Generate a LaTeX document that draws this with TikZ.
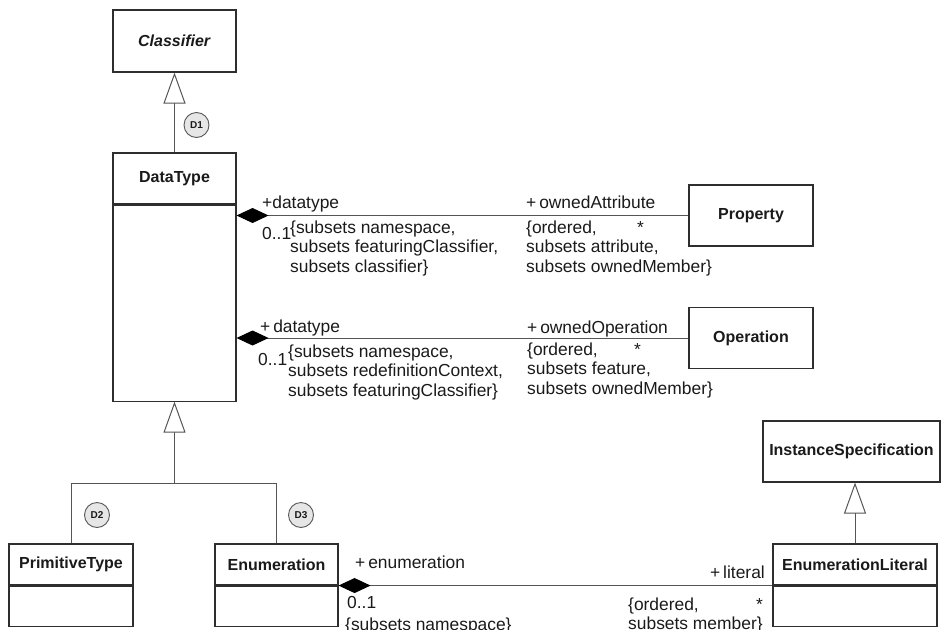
\documentclass[tikz,border=0pt]{standalone}
\usepackage{fontspec}
\setmainfont{Liberation Sans}
\usetikzlibrary{arrows.meta,positioning}
\definecolor{ln}{HTML}{2E2E2E}
\definecolor{cn}{HTML}{555555}
\definecolor{tx}{HTML}{1A1A1A}
\definecolor{dfill}{HTML}{E6E6E6}
\tikzset{
  cls/.style={draw=ln,line width=1.1pt,fill=white,inner sep=0pt,text=tx,font=\bfseries\fontsize{16}{19.5}\selectfont},
  clsbody/.style={draw=ln,line width=1.1pt,fill=white,inner sep=0pt},
  lbl/.style={inner sep=0pt,align=left,text=tx,font=\fontsize{17.4}{19.5}\selectfont},
  dmark/.style={circle,draw=ln!80,fill=dfill,line width=0.9pt,minimum size=25pt,inner sep=0pt,text=tx,font=\bfseries\fontsize{10}{11}\selectfont},
  gen/.style={-{Triangle[open,length=31pt,width=22pt,fill=white]},draw=cn,line width=1pt},
  comp/.style={{Diamond[length=32pt,width=15pt,color=black]}-,draw=cn,line width=1pt},
  cline/.style={draw=cn,line width=1pt},
}
\begin{document}
\begin{tikzpicture}[x=1pt,y=-1pt]
  \useasboundingbox (0,0) rectangle (941,629);
  \clip (0,0) rectangle (941,629);
  \node[cls,minimum width=123pt,minimum height=62pt] (cls) at (174.5,41) {\textit{Classifier}};
  \node[cls,minimum width=123pt,minimum height=51pt] (dth) at (174.5,178.5) {DataType};
  \node[clsbody,minimum width=123pt,minimum height=196pt,below=0pt of dth] (dtb) {};
  \node[cls,minimum width=124pt,minimum height=61pt] (prop) at (751,215.5) {Property};
  \node[cls,minimum width=124pt,minimum height=61pt] (oper) at (751,338) {Operation};
  \node[cls,minimum width=124pt,minimum height=41pt] (prh) at (71,564.5) {PrimitiveType};
  \node[clsbody,minimum width=124pt,minimum height=40pt,below=0pt of prh] (prb) {};
  \node[cls,minimum width=123pt,minimum height=41pt] (enh) at (276.5,564.5) {Enumeration};
  \node[clsbody,minimum width=123pt,minimum height=40pt,below=0pt of enh] (enb) {};
  \node[cls,minimum width=177pt,minimum height=61pt] (inst) at (851.5,451.5) {InstanceSpecification};
  \node[cls,minimum width=164pt,minimum height=41pt] (elh) at (855,564.5) {EnumerationLiteral};
  \node[clsbody,minimum width=164pt,minimum height=40pt,below=0pt of elh] (elb) {};

  \draw[gen] (dth.north) -- (cls.south);
  \coordinate[below=82pt of dtb.south] (gsplit);
  \draw[cline] (prh.north) |- (gsplit) -| (enh.north);
  \draw[gen] (gsplit) -- (dtb.south);
  \draw[gen] (elh.north) -- (elh.north |- inst.south);
  \node[dmark] (dOne) at (196.5,125) {D1};
  \node[dmark] (dTwo) at (97,515) {D2};
  \node[dmark] (dThree) at (301,515) {D3};

  \draw[comp] (dtb.east |- prop.west) -- (prop.west);
  \node[lbl,anchor=base west] (dtRoleA) at (262,208) {+datatype};
  \node[lbl,anchor=base west] (dtMultA) at (262,239) {0..1};
  \node[lbl,anchor=base west] (dtConsA) at (290,272) {\{subsets namespace,\\subsets featuringClassifier,\\subsets classifier\}};
  \node[lbl,anchor=base west] (propRole) at (526,208) {+\,ownedAttribute};
  \node[lbl,anchor=base west] (propCons) at (526,272) {\{ordered,\\subsets attribute,\\subsets ownedMember\}};
  \node[lbl,anchor=base west] (propMult) at (637,233) {*};

  \draw[comp] (dtb.east |- oper.west) -- (oper.west);
  \node[lbl,anchor=base west] (dtRoleB) at (260,332) {+\,datatype};
  \node[lbl,anchor=base west] (dtMultB) at (258,365) {0..1};
  \node[lbl,anchor=base west] (dtConsB) at (288,396) {\{subsets namespace,\\subsets redefinitionContext,\\subsets featuringClassifier\}};
  \node[lbl,anchor=base west] (operRole) at (527,333) {+\,ownedOperation};
  \node[lbl,anchor=base west] (operCons) at (527,394) {\{ordered,\\subsets feature,\\subsets ownedMember\}};
  \node[lbl,anchor=base west] (operMult) at (634,355) {*};

  \draw[comp] (enh.south east) -- (elh.south west);
  \node[lbl,anchor=base west] (enRole) at (355,568) {+\,enumeration};
  \node[lbl,anchor=base west] (enMult) at (347,608) {0..1};
  \node[lbl,anchor=base west] (enCons) at (345,630) {\{subsets namespace\}};
  \node[lbl,anchor=base east] (litRole) at (765,578) {+\,literal};
  \node[lbl,anchor=base west] (litCons) at (628,629.5) {\{ordered,\\subsets member\}};
  \node[lbl,anchor=base west] (litMult) at (756,610) {*};
\end{tikzpicture}
\end{document}
